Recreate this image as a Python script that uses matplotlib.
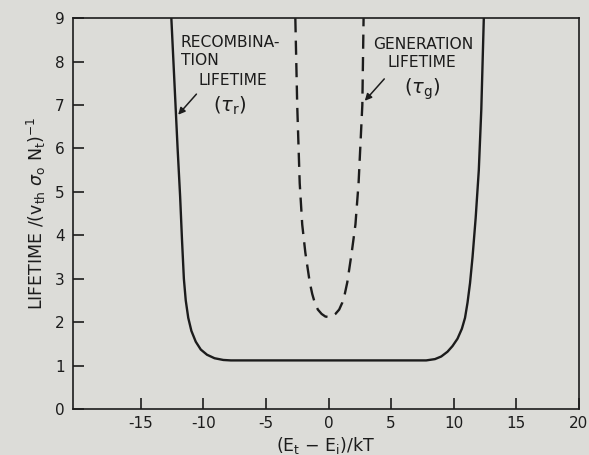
"""Recombination vs. generation lifetime as a function of trap level."""
import matplotlib

matplotlib.use("Agg")
import matplotlib.pyplot as plt

# recombination lifetime (solid)
tau_r_x = [-12.55, -12.3, -12.05, -11.85, -11.7, -11.55, -11.4, -11.2,
           -10.95, -10.6, -10.2, -9.7, -9.1, -8.4, -7.8, 0.0,
           7.8, 8.5, 9.0, 9.5, 9.9, 10.3, 10.65, 10.9, 11.1, 11.3,
           11.5, 11.75, 12.0, 12.2, 12.4]
tau_r_y = [9.0, 7.5, 6.0, 4.9, 3.9, 3.0, 2.5, 2.1,
           1.8, 1.55, 1.37, 1.25, 1.17, 1.13, 1.12, 1.12,
           1.12, 1.15, 1.21, 1.32, 1.45, 1.62, 1.85, 2.1, 2.45, 2.9,
           3.5, 4.4, 5.5, 6.9, 9.0]

# generation lifetime (dashed)
tau_g_x = [-2.65, -2.5, -2.3, -2.1, -1.85, -1.5, -1.3, -1.1, -0.85, -0.55,
           -0.25, 0.0, 0.25, 0.55, 0.85, 1.1, 1.3, 1.5, 1.85, 2.15, 2.4,
           2.7, 2.8]
tau_g_y = [9.0, 7.0, 5.2, 4.25, 3.6, 2.92, 2.65, 2.45, 2.29, 2.19,
           2.13, 2.12, 2.13, 2.19, 2.29, 2.45, 2.65, 2.92, 3.6, 4.25, 5.2,
           7.0, 9.0]

x_ticks = [-15, -10, -5, 0, 5, 10, 15, 20]
y_ticks = [0, 1, 2, 3, 4, 5, 6, 7, 8, 9]

paper = "#dcdcd8"
ink = "#1c1c1c"

plt.rcParams["font.family"] = ["DejaVu Sans"]

fig = plt.figure(figsize=(5.89, 4.55), dpi=100, facecolor=paper)
ax = fig.add_axes([0.124, 0.101, 0.859, 0.859], facecolor=paper)

ax.plot(tau_r_x, tau_r_y, color=ink, lw=1.7, solid_joinstyle="round")
ax.plot(tau_g_x, tau_g_y, color=ink, lw=1.7, dashes=(6, 3.5))

ax.set_xlim(-20.4, 20)
ax.set_ylim(0, 9)
ax.set_xticks(x_ticks)
ax.set_xticklabels([str(t) for t in x_ticks])
ax.set_yticks(y_ticks)
ax.tick_params(direction="in", length=8, width=1.2, colors=ink,
               labelsize=11)
ax.tick_params(axis="x", pad=5)
ax.tick_params(axis="y", pad=6)
for sp in ax.spines.values():
    sp.set_linewidth(1.2)
    sp.set_color(ink)

ax.set_xlabel(r"(E$_{\rm t}$ $-$ E$_{\rm i}$)/kT", fontsize=12.5,
              color=ink, labelpad=3)
ax.set_ylabel(r"LIFETIME /(v$_{\rm th}$ $\sigma_{\rm o}$ N$_{\rm t}$)$^{-1}$",
              fontsize=12.5, color=ink, labelpad=5)

txt = dict(fontsize=11.2, color=ink, va="baseline")
ax.text(-11.8, 8.34, "RECOMBINA-", ha="left", **txt)
ax.text(-11.8, 7.93, "TION", ha="left", **txt)
ax.text(-10.4, 7.47, "LIFETIME", ha="left", **txt)
ax.text(-7.9, 6.85, r"($\tau_{\rm r}$)", ha="center", fontsize=14,
        color=ink, va="baseline")
ax.annotate("", xy=(-12.15, 6.73), xytext=(-10.4, 7.3),
            arrowprops=dict(arrowstyle="-|>", color=ink, lw=1.1,
                            mutation_scale=10))

ax.text(3.6, 8.3, "GENERATION", ha="left", **txt)
ax.text(4.7, 7.88, "LIFETIME", ha="left", **txt)
ax.text(7.5, 7.25, r"($\tau_{\rm g}$)", ha="center", fontsize=14,
        color=ink, va="baseline")
ax.annotate("", xy=(2.75, 7.05), xytext=(4.6, 7.65),
            arrowprops=dict(arrowstyle="-|>", color=ink, lw=1.1,
                            mutation_scale=10))

fig.savefig("out.png", dpi=100, facecolor=paper)
